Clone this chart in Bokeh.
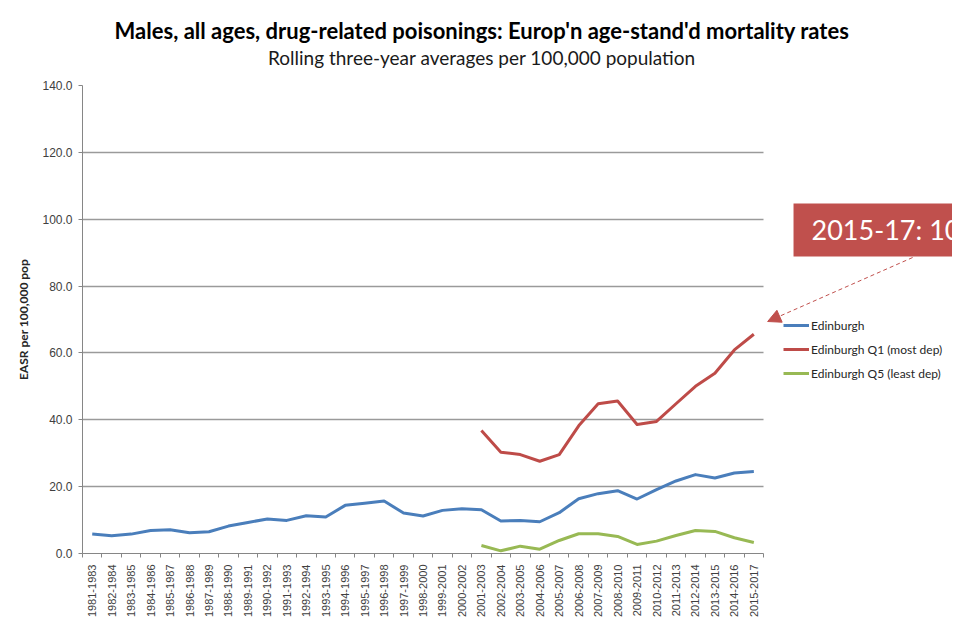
from bokeh.plotting import figure
from bokeh.layouts import column
from bokeh.models import (Range1d, FixedTicker, Label, Arrow, NormalHead,
                          PrintfTickFormatter)
from bokeh.embed import file_html
from bokeh.resources import INLINE

# ---------------- data ----------------
categories = ["1981-1983", "1982-1984", "1983-1985", "1984-1986", "1985-1987",
              "1986-1988", "1987-1989", "1988-1990", "1989-1991", "1990-1992",
              "1991-1993", "1992-1994", "1993-1995", "1994-1996", "1995-1997",
              "1996-1998", "1997-1999", "1998-2000", "1999-2001", "2000-2002",
              "2001-2003", "2002-2004", "2003-2005", "2004-2006", "2005-2007",
              "2006-2008", "2007-2009", "2008-2010", "2009-2011", "2010-2012",
              "2011-2013", "2012-2014", "2013-2015", "2014-2016", "2015-2017"]

edinburgh = [5.8, 5.3, 5.8, 6.9, 7.1, 6.2, 6.5, 8.2, 9.3, 10.3,
             9.9, 11.3, 10.9, 14.4, 15.0, 15.7, 12.1, 11.2, 12.9, 13.4,
             13.1, 9.7, 9.9, 9.5, 12.2, 16.4, 17.9, 18.8, 16.3, 19.1,
             21.7, 23.6, 22.6, 24.1, 24.5]

quintile_start = "2001-2003"
edinburgh_q1 = [36.8, 30.3, 29.6, 27.6, 29.6, 38.2, 44.8, 45.6, 38.6, 39.5,
                44.8, 50.0, 53.9, 60.9, 65.6]
edinburgh_q5 = [2.4, 0.8, 2.2, 1.3, 3.9, 5.9, 5.9, 5.1, 2.7, 3.7,
                5.4, 6.9, 6.6, 4.7, 3.3]

y_ticks = [0, 20, 40, 60, 80, 100, 120, 140]

title_text = "Males, all ages, drug-related poisonings: Europ'n age-stand'd mortality rates"
subtitle_text = "Rolling three-year averages per 100,000 population"
y_label = "EASR per 100,000 pop"
callout_text = "2015-17: 10"

W = 952
LEFT = 82

# ---------------- title strip ----------------
t = figure(width=W, height=75, output_backend="svg", toolbar_location=None,
           x_range=Range1d(LEFT, W), y_range=Range1d(0, 75),
           x_axis_location=None, y_axis_location=None,
           min_border_left=LEFT, min_border_right=0, min_border_top=0,
           min_border_bottom=0)
t.grid.visible = False
t.outline_line_color = None
t.background_fill_color = "white"
t.border_fill_color = "white"
t.add_layout(Label(x=481.5, y=45, text=title_text, text_align="center",
                   text_baseline="middle", text_font="Lato", text_font_style="bold",
                   text_font_size="22px", text_color="#000000"))
t.add_layout(Label(x=481.5, y=18, text=subtitle_text, text_align="center",
                   text_baseline="middle", text_font="Lato",
                   text_font_size="19px", text_color="#1a1a1a"))

# ---------------- main chart ----------------
n = len(categories)
x_all = list(range(n))
s = categories.index(quintile_start)
x_q = list(range(s, s + len(edinburgh_q1)))

# the frame runs to the right edge so the legend and call-out are not clipped
p = figure(width=W, height=547, output_backend="svg", toolbar_location=None,
           x_range=Range1d(-0.5, 44.21), y_range=Range1d(0, 140),
           min_border_left=LEFT, min_border_right=0, min_border_top=10,
           min_border_bottom=69)
p.outline_line_color = None
p.background_fill_color = "white"
p.border_fill_color = "white"

BLUE = "#4a7ebb"
RED = "#be4b48"
GREEN = "#98b954"

p.line(x_all, edinburgh, line_color=BLUE, line_width=3, line_join="round",
       legend_label="Edinburgh")
p.line(x_q, edinburgh_q1, line_color=RED, line_width=3, line_join="round",
       legend_label="Edinburgh Q1 (most dep)")
p.line(x_q, edinburgh_q5, line_color=GREEN, line_width=3, line_join="round",
       legend_label="Edinburgh Q5 (least dep)")

GRID = "#9a9a9a"
AX = "#868686"
TXT = "#404040"

p.xgrid.grid_line_color = None
p.ygrid.grid_line_color = GRID
p.ygrid.grid_line_width = 1.3
p.ygrid.ticker = FixedTicker(ticks=y_ticks)
try:
    p.ygrid.cross_bounds = (-0.5, n - 0.5)
except Exception:
    p.ygrid.grid_line_color = None
    p.segment(x0=[-0.5] * len(y_ticks), y0=y_ticks, x1=[n - 0.5] * len(y_ticks),
              y1=y_ticks, line_color=GRID, line_width=1.3, level="underlay")

p.yaxis.ticker = FixedTicker(ticks=y_ticks)
p.yaxis.formatter = PrintfTickFormatter(format="%.1f")
p.yaxis.axis_line_color = AX
p.yaxis.major_tick_line_color = AX
p.yaxis.major_tick_out = 4
p.yaxis.major_tick_in = 0
p.yaxis.minor_tick_line_color = None
p.yaxis.major_label_text_font = "Liberation Sans"
p.yaxis.major_label_text_font_size = "12px"
p.yaxis.major_label_text_color = TXT
p.yaxis.major_label_standoff = 6
p.yaxis.axis_label = y_label
p.yaxis.axis_label_text_font = "Lato"
p.yaxis.axis_label_text_font_style = "bold"
p.yaxis.axis_label_text_font_size = "12px"
p.yaxis.axis_label_text_color = "#262626"
p.yaxis.axis_label_standoff = 8

p.xaxis.ticker = FixedTicker(ticks=x_all, minor_ticks=[i - 0.5 for i in range(n + 1)])
p.xaxis.bounds = (-0.5, n - 0.5)
p.xaxis.major_label_overrides = {i: c for i, c in enumerate(categories)}
p.xaxis.major_label_orientation = 3.14159265 / 2
p.xaxis.axis_line_color = AX
p.xaxis.major_tick_line_color = None
p.xaxis.major_tick_out = 0
p.xaxis.major_tick_in = 0
p.xaxis.minor_tick_line_color = AX
p.xaxis.minor_tick_out = 4
p.xaxis.minor_tick_in = 0
p.xaxis.major_label_text_font = "Liberation Sans"
p.xaxis.major_label_text_font_size = "11px"
p.xaxis.major_label_text_color = TXT
p.xaxis.major_label_standoff = 7

# legend
lg = p.legend[0]
lg.location = (701, 170)
lg.orientation = "vertical"
lg.background_fill_alpha = 0
lg.border_line_color = None
lg.padding = 0
lg.margin = 0
lg.spacing = 4
lg.glyph_width = 26
lg.glyph_height = 20
lg.label_standoff = 2
lg.label_text_font = "Lato"
lg.label_text_font_size = "12px"
lg.label_text_color = "#262626"
lg.label_height = 20

# call-out box and arrow
p.add_layout(Label(x=36.04, y=96.8, text=callout_text, text_align="left",
                   text_baseline="middle", text_font="Lato",
                   text_font_size="27px", text_color="white",
                   background_fill_color="#c0504d",
                   padding=dict(left=18, right=200, top=10, bottom=10)))
p.add_layout(Arrow(x_start=42.16, y_start=88.54, x_end=34.71, y_end=69.4,
                   line_color="#c0504d", line_width=1, line_dash="4 3",
                   end=NormalHead(size=13, fill_color="#c0504d", line_color="#c0504d")))

page = column(t, p, spacing=0)
open("out.html", "w").write(file_html(page, INLINE))
